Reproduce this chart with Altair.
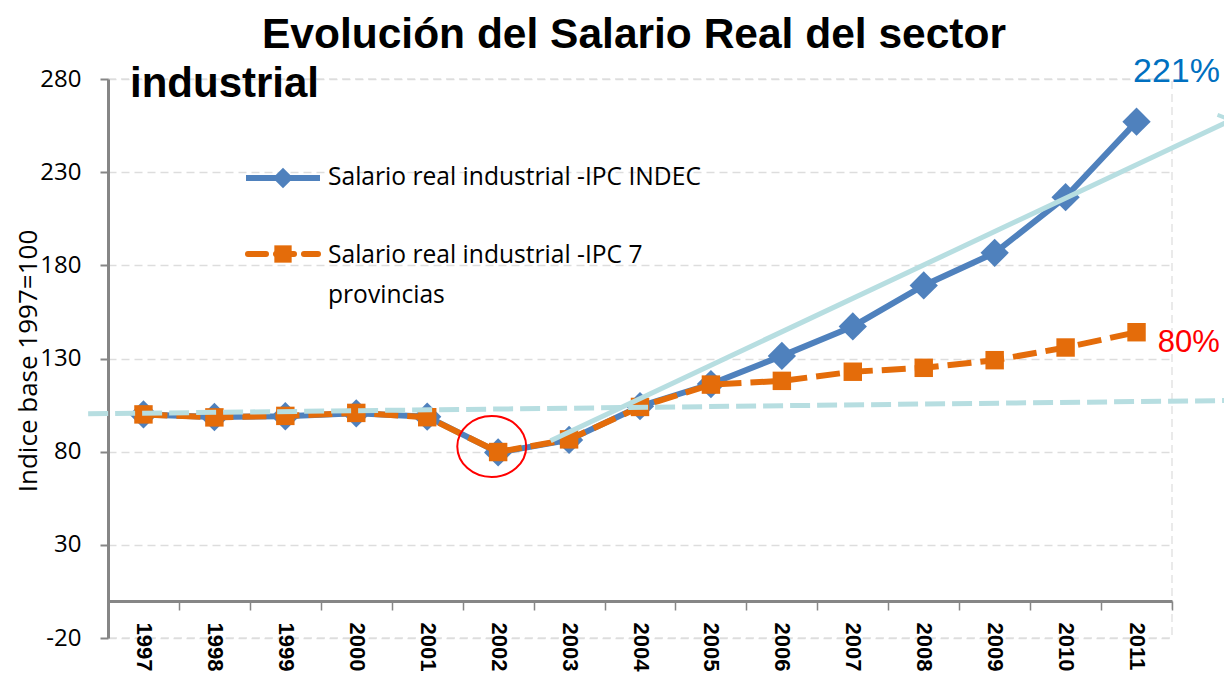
import altair as alt
import pandas as pd

# ---------------- data ----------------
years = [str(y) for y in range(1997, 2012)]
indec = [100.0, 98.6, 99.0, 100.6, 98.8, 79.6, 86.3, 104.4, 116.3, 131.4, 147.2, 169.2, 186.7, 216.6, 257.1]
prov7 = [100.0, 98.4, 99.2, 100.8, 98.5, 79.8, 86.6, 104.0, 116.0, 118.0, 122.9, 125.0, 129.1, 135.9, 144.1]

# trend lines (fractional year positions)
flat_x = [1996.22, 2012.37]
flat_y = [100.3, 107.5]
up_x = [2002.74, 2012.34]
up_y = [85.9, 258.0]

# annotations
pct_text = ["221%", "80%"]
pct_x = [2010.95, 2011.30]
pct_y = [283.7, 138.3]
pct_size = [34, 31]
pct_color = ["#0070C0", "#FF0000"]
circle_x = [2001.91]
circle_y = [82.8]

y_ticks = [-20, 30, 80, 130, 180, 230, 280]
title_line1 = "Evolución del Salario Real del sector"
title_line2 = "industrial"
legend_1 = "Salario real industrial -IPC INDEC"
legend_2a = "Salario real industrial -IPC 7"
legend_2b = "provincias"
y_title = "Indice base 1997=100"

BLUE = "#4F81BD"
ORANGE = "#E46C0A"
TEAL = "#B7DEE1"
GRAY = "#868686"

W, H = 1064, 559

df = pd.DataFrame({"year": years, "indec": indec, "prov": prov7})
flat_df = pd.DataFrame({"x": flat_x, "y": flat_y})
up_df = pd.DataFrame({"x": up_x, "y": up_y})
tip_df = pd.DataFrame({"x": [up_x[-1]], "y": [up_y[-1]]})
pct_df = pd.DataFrame({"t": pct_text, "x": pct_x, "y": pct_y, "c": pct_color, "s": pct_size})
circ_df = pd.DataFrame({"x": circle_x, "y": circle_y})
one = pd.DataFrame({"k": [0]})

yscale = alt.Scale(domain=[-20, 280], nice=False, zero=False)
xq = alt.Scale(domain=[1996.5, 2011.5], nice=False, zero=False)
xb = alt.Scale(type="band", paddingInner=0, paddingOuter=0)

xband = alt.X(
    "year:O",
    bandPosition=0.5,
    scale=xb,
    axis=alt.Axis(
        title=None,
        offset=-37,
        labelAngle=90,
        labelAlign="left",
        labelBaseline="middle",
        labelFont="Liberation Sans",
        labelFontWeight="bold",
        labelFontSize=22,
        labelColor="#000000",
        labelPadding=12,
        labelOverlap=False,
        labelBound=False,
        tickBand="extent",
        tickSize=9,
        tickColor=GRAY,
        tickWidth=1.5,
        domainColor=GRAY,
        domainWidth=3,
        grid=False,
    ),
)
xplain = alt.X("year:O", bandPosition=0.5, scale=xb, axis=None)

yaxis = alt.Axis(
    values=y_ticks,
    labelExpr="'' + datum.value",
    title=y_title,
    titleFont="Open Sans",
    titleFontSize=26,
    titleFontWeight="normal",
    titleColor="#000000",
    titleAngle=270,
    titleAlign="center",
    titleBaseline="middle",
    titleX=-80,
    titleY=H / 2 + 2,
    labelFont="Open Sans",
    labelFontSize=24,
    labelColor="#000000",
    labelPadding=19,
    tickSize=8,
    tickColor=GRAY,
    tickWidth=2,
    domainColor=GRAY,
    domainWidth=3,
    grid=True,
    gridColor="#DDDDDD",
    gridDash=[8, 5],
    gridWidth=1.5,
)

base = alt.Chart(df)
blue_line = base.mark_line(color=BLUE, strokeWidth=6).encode(
    x=xband, y=alt.Y("indec:Q", scale=yscale, axis=yaxis)
)
blue_pts = base.mark_point(shape="diamond", filled=True, size=800, color=BLUE, opacity=1).encode(
    x=xplain, y="indec:Q"
)
orange_line = base.mark_line(color=ORANGE, strokeWidth=6, strokeDash=[24, 9]).encode(
    x=xplain, y="prov:Q"
)
orange_pts = base.mark_point(shape="square", filled=True, size=340, color=ORANGE, opacity=1).encode(
    x=xplain, y="prov:Q"
)

flat = alt.Chart(flat_df).mark_line(color=TEAL, strokeWidth=5, strokeDash=[20, 7]).encode(
    x=alt.X("x:Q", scale=xq, axis=None), y="y:Q"
)
up = alt.Chart(up_df).mark_line(color=TEAL, strokeWidth=5).encode(
    x=alt.X("x:Q", scale=xq, axis=None), y="y:Q"
)
tip = alt.Chart(tip_df).mark_point(
    shape="M-1,-1L0,0L-1,1", filled=False, size=450, stroke=TEAL, strokeWidth=4, angle=334.8, opacity=1
).encode(x=alt.X("x:Q", scale=xq, axis=None), y="y:Q")
circ = alt.Chart(circ_df).mark_point(
    shape="M-1.13,0A1.13,1,0,1,0,1.13,0A1.13,1,0,1,0,-1.13,0Z",
    filled=False, size=3721, stroke="#FF0000", strokeWidth=2, opacity=1,
).encode(x=alt.X("x:Q", scale=xq, axis=None), y="y:Q")
pct = alt.Chart(pct_df).mark_text(
    font="Liberation Sans", align="left", baseline="middle"
).encode(
    x=alt.X("x:Q", scale=xq, axis=None), y="y:Q", text="t:N",
    color=alt.Color("c:N", scale=None),
    size=alt.Size("s:Q", scale=None, legend=None),
)

# titles
t1 = alt.Chart(one).mark_text(
    text=title_line1, font="Liberation Sans", fontWeight="bold", fontSize=42.5,
    align="center", baseline="alphabetic", color="#000000",
).encode(x=alt.value(526), y=alt.value(-31))
t2 = alt.Chart(one).mark_text(
    text=title_line2, font="Liberation Sans", fontWeight="bold", fontSize=42,
    align="left", baseline="alphabetic", color="#000000",
).encode(x=alt.value(22), y=alt.value(18))

# legend
lg_font = dict(font="Open Sans", fontSize=24.6, align="left", baseline="middle", color="#000000")
lg1_line = alt.Chart(one).mark_rule(color=BLUE, strokeWidth=6).encode(
    x=alt.value(138), x2=alt.value(212), y=alt.value(99)
)
lg1_pt = alt.Chart(one).mark_point(shape="diamond", filled=True, size=420, color=BLUE, opacity=1).encode(
    x=alt.value(175), y=alt.value(99)
)
lg1_txt = alt.Chart(one).mark_text(text=legend_1, **lg_font).encode(x=alt.value(220), y=alt.value(99))
lg2_line = alt.Chart(one).mark_rule(color=ORANGE, strokeWidth=6, strokeDash=[18, 10], strokeCap="round").encode(
    x=alt.value(140), x2=alt.value(210), y=alt.value(175)
)
lg2_pt = alt.Chart(one).mark_point(shape="square", filled=True, size=300, color=ORANGE, opacity=1).encode(
    x=alt.value(175), y=alt.value(175)
)
lg2_txt = alt.Chart(one).mark_text(text=legend_2a, **lg_font).encode(x=alt.value(220), y=alt.value(177))
lg2_txt2 = alt.Chart(one).mark_text(text=legend_2b, **lg_font).encode(x=alt.value(220), y=alt.value(217))

chart = alt.layer(
    blue_line, blue_pts, orange_line, orange_pts,
    flat, up, tip, circ, pct,
    t1, t2,
    lg1_line, lg1_pt, lg1_txt, lg2_line, lg2_pt, lg2_txt, lg2_txt2,
).resolve_scale(x="independent").properties(
    width=W, height=H,
    autosize="none",
    padding={"left": 100, "top": 71, "right": 52, "bottom": 35},
).configure_view(
    stroke="#E4E4E4", strokeDash=[8, 5], strokeWidth=1.5
)

chart.save("out.html", embed_options={"renderer": "svg", "actions": False})
